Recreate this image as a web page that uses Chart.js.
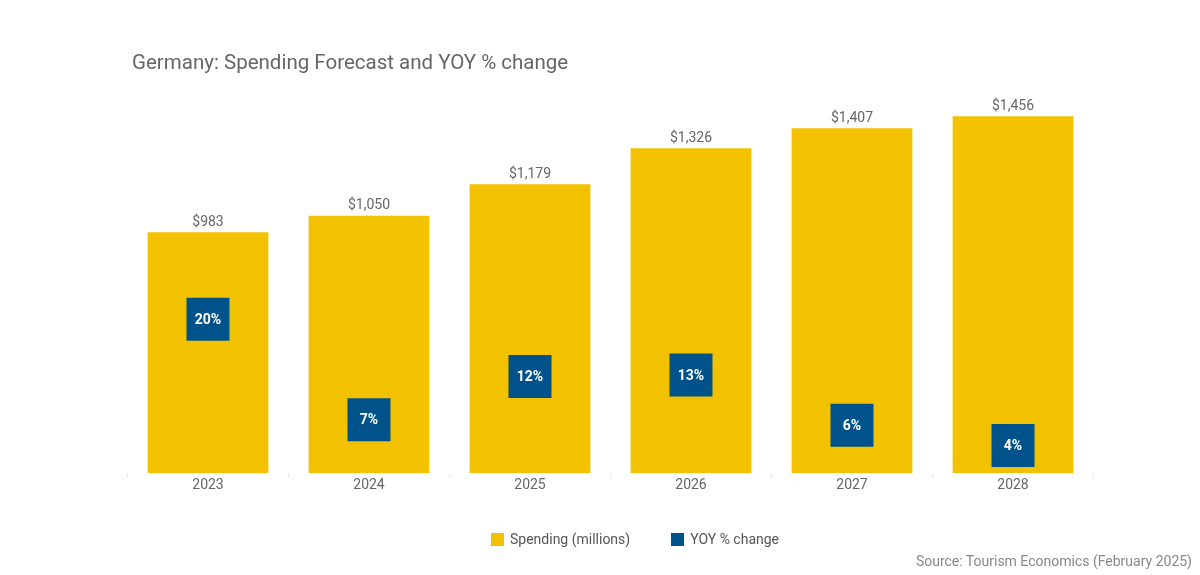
<!DOCTYPE html>
<html><head><meta charset="utf-8">
<script src="https://cdn.jsdelivr.net/npm/chart.js@4.4.1/dist/chart.umd.min.js"></script>
<style>
html,body{margin:0;padding:0;background:#fff;}
#wrap{position:relative;width:1200px;height:575px;overflow:hidden;font-family:Roboto,"Open Sans",sans-serif;}
#title{position:absolute;left:132px;top:49px;font-size:20.5px;color:#666;line-height:26px;white-space:nowrap;}
#legend{position:absolute;top:530px;left:491px;display:flex;font-size:14px;color:#555;line-height:18px;}
.item{display:flex;align-items:center;margin-right:41px;}
.sw{width:13px;height:13px;margin-right:6px;}
#source{position:absolute;right:8px;top:553px;font-size:14px;color:#888;white-space:nowrap;}
canvas{position:absolute;left:0;top:0;}
</style></head>
<body>
<div id="wrap">
<canvas id="c" width="1200" height="575"></canvas>
<div id="title">Germany: Spending Forecast and YOY % change</div>
<div id="legend"></div>
<div id="source">Source: Tourism Economics (February 2025)</div>
</div>
<script>
const years = ['2023', '2024', '2025', '2026', '2027', '2028'];
const spending = [983, 1050, 1179, 1326, 1407, 1456];
const yoyChange = [19.6, 6.8, 12.3, 12.5, 6.1, 3.5];
const seriesNames = ['Spending (millions)', 'YOY % change'];
const seriesColors = ['#F2C200', '#00538A'];

const labelPlugin = {
  id: 'valueLabels',
  afterDatasetsDraw(chart) {
    const ctx = chart.ctx;
    ctx.save();
    ctx.textAlign = 'center';
    ctx.textBaseline = 'middle';
    const barMeta = chart.getDatasetMeta(0);
    ctx.fillStyle = '#666';
    ctx.font = '14px Roboto, "Open Sans", sans-serif';
    barMeta.data.forEach((el, i) => {
      ctx.fillText('$' + spending[i].toLocaleString('en-US'), el.x, el.y - 10);
    });
    const ptMeta = chart.getDatasetMeta(1);
    ctx.fillStyle = '#fff';
    ctx.font = 'bold 14px Roboto, "Open Sans", sans-serif';
    ptMeta.data.forEach((el, i) => {
      ctx.fillText(Math.round(yoyChange[i]) + '%', el.x, el.y + 1);
    });
    ctx.restore();
  }
};

new Chart(document.getElementById('c'), {
  data: {
    labels: years,
    datasets: [
      {
        type: 'bar', label: seriesNames[0], data: spending,
        backgroundColor: seriesColors[0], yAxisID: 'y', order: 2,
        barPercentage: 0.75, categoryPercentage: 1
      },
      {
        type: 'line', label: seriesNames[1], data: yoyChange,
        showLine: false, pointStyle: 'rect', pointRadius: 30.4, pointHoverRadius: 30.4,
        pointBorderWidth: 0, backgroundColor: seriesColors[1], borderColor: seriesColors[1],
        yAxisID: 'y2', order: 1
      }
    ]
  },
  options: {
    responsive: false,
    animation: false,
    devicePixelRatio: 1,
    layout: { padding: { left: 127.5, right: 106.5, top: 81, bottom: 72 } },
    plugins: { legend: { display: false }, tooltip: { enabled: false }, title: { display: false } },
    events: [],
    scales: {
      x: {
        offset: true,
        grid: { offset: true, drawOnChartArea: false, color: '#e6e6e6', tickLength: 4 },
        border: { display: false },
        ticks: { color: '#666', font: { size: 14, family: 'Roboto, "Open Sans", sans-serif' }, padding: 0 },
        afterFit(s) { s.height = 30; }
      },
      y: { display: false, min: 0, max: 1600 },
      y2: { display: false, min: 0, max: 50, position: 'right' }
    }
  },
  plugins: [labelPlugin]
});

const legend = document.getElementById('legend');
seriesNames.forEach((n, i) => {
  const it = document.createElement('div'); it.className = 'item';
  const sw = document.createElement('span'); sw.className = 'sw'; sw.style.background = seriesColors[i];
  const tx = document.createElement('span'); tx.textContent = n;
  it.appendChild(sw); it.appendChild(tx); legend.appendChild(it);
});
</script>
</body></html>
